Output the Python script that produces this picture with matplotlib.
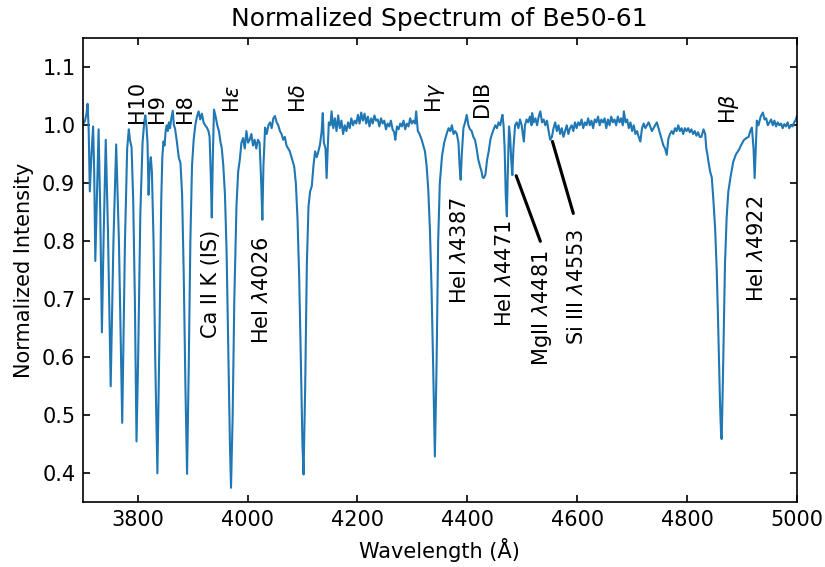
import matplotlib
matplotlib.use("Agg")
import matplotlib.pyplot as plt

wavelength = [
    3702, 3704, 3707, 3709, 3711, 3713, 3716, 3719, 3721, 3723, 3726, 3729, 3732, 3735, 3738,
    3742, 3746, 3751, 3756, 3761, 3766, 3772, 3777, 3781, 3784, 3786, 3789, 3792, 3795, 3798,
    3801, 3805, 3809, 3812, 3814, 3816, 3818, 3820, 3822, 3824, 3826, 3829, 3832, 3836, 3840,
    3843, 3845, 3847, 3849, 3851, 3853, 3855, 3857, 3859, 3861, 3864, 3866, 3868, 3871, 3875,
    3878, 3881, 3884, 3887, 3890, 3893, 3896, 3899, 3902, 3905, 3908, 3911, 3914, 3917, 3920,
    3923, 3926, 3929, 3931, 3933, 3935, 3937, 3939, 3942, 3945, 3948, 3951, 3953, 3956, 3959,
    3962, 3965, 3968, 3970, 3973, 3976, 3980, 3983, 3986, 3989, 3992, 3995, 3998, 4001, 4004,
    4007, 4010, 4013, 4016, 4019, 4022, 4025, 4027, 4029, 4032, 4035, 4038, 4041, 4044, 4047,
    4050, 4053, 4056, 4059, 4062, 4065, 4068, 4071, 4074, 4077, 4080, 4083, 4085, 4088, 4091,
    4094, 4097, 4100, 4102, 4105, 4108, 4111, 4114, 4117, 4120, 4123, 4126, 4129, 4132, 4135,
    4137, 4139, 4142, 4144, 4146, 4148, 4151, 4153, 4156, 4159, 4162, 4165, 4168, 4171, 4174,
    4177, 4180, 4183, 4186, 4189, 4192, 4195, 4198, 4201, 4204, 4207, 4210, 4213, 4216, 4219,
    4222, 4225, 4228, 4231, 4234, 4237, 4240, 4243, 4246, 4249, 4252, 4255, 4258, 4261, 4264,
    4267, 4269, 4272, 4275, 4278, 4281, 4284, 4287, 4290, 4293, 4296, 4299, 4302, 4305, 4307,
    4310, 4313, 4317, 4320, 4323, 4326, 4329, 4332, 4335, 4338, 4341, 4344, 4347, 4350, 4354,
    4358, 4363, 4366, 4369, 4372, 4375, 4378, 4381, 4384, 4386, 4388, 4390, 4393, 4396, 4399,
    4402, 4405, 4408, 4411, 4414, 4417, 4420, 4423, 4426, 4428, 4430, 4433, 4436, 4439, 4442,
    4445, 4448, 4451, 4454, 4457, 4460, 4462, 4464, 4466, 4468, 4470, 4472, 4474, 4476, 4478,
    4480, 4482, 4484, 4487, 4490, 4493, 4496, 4499, 4501, 4503, 4505, 4508, 4511, 4514, 4517,
    4518, 4521, 4524, 4527, 4530, 4533, 4536, 4539, 4542, 4545, 4548, 4551, 4554, 4557, 4560,
    4563, 4566, 4569, 4572, 4575, 4578, 4581, 4584, 4587, 4590, 4593, 4596, 4599, 4602, 4605,
    4608, 4611, 4614, 4617, 4620, 4623, 4626, 4629, 4632, 4635, 4638, 4641, 4644, 4647, 4650,
    4653, 4656, 4659, 4662, 4665, 4668, 4671, 4674, 4677, 4680, 4683, 4685, 4688, 4691, 4694,
    4697, 4700, 4703, 4706, 4709, 4712, 4715, 4718, 4721, 4724, 4727, 4730, 4733, 4736, 4739,
    4742, 4745, 4748, 4751, 4754, 4757, 4760, 4763, 4766, 4769, 4772, 4775, 4778, 4781, 4784,
    4787, 4790, 4793, 4796, 4799, 4802, 4805, 4808, 4811, 4814, 4817, 4820, 4823, 4826, 4830,
    4833, 4835, 4837, 4839, 4842, 4845, 4848, 4851, 4854, 4856, 4858, 4860, 4862, 4863, 4865,
    4867, 4869, 4872, 4875, 4879, 4884, 4889, 4894, 4898, 4903, 4908, 4912, 4915, 4918, 4921,
    4923, 4925, 4927, 4930, 4934, 4938, 4941, 4944, 4947, 4950, 4953, 4956, 4959, 4962, 4965,
    4968, 4971, 4974, 4977, 4980, 4983, 4986, 4989, 4992, 4995, 4998, 5000,
]

intensity = [
    1.004, 1.007, 1.020, 1.037, 0.990, 0.886, 0.950, 0.998, 0.920, 0.766, 0.880, 0.993, 0.850, 0.643, 0.800,
    0.975, 0.820, 0.550, 0.800, 0.967, 0.800, 0.487, 0.800, 0.960, 0.993, 0.975, 0.962, 0.870, 0.700, 0.455,
    0.600, 0.850, 0.970, 1.005, 1.017, 1.000, 0.970, 0.880, 0.930, 0.945, 0.920, 0.800, 0.600, 0.400, 0.650,
    0.870, 0.945, 0.972, 0.965, 0.990, 1.000, 0.990, 1.005, 0.995, 1.010, 1.025, 1.000, 0.995, 0.975, 0.944,
    0.935, 0.880, 0.740, 0.550, 0.399, 0.580, 0.800, 0.930, 0.975, 1.000, 1.015, 1.024, 1.010, 1.020, 1.005,
    1.000, 0.996, 0.990, 0.980, 0.920, 0.841, 0.950, 1.027, 1.015, 1.000, 0.990, 0.970, 0.962, 0.930, 0.880,
    0.780, 0.620, 0.450, 0.375, 0.500, 0.700, 0.863, 0.920, 0.941, 0.970, 0.978, 0.960, 0.990, 0.970, 0.975,
    0.985, 0.965, 0.975, 0.960, 0.975, 0.970, 0.900, 0.837, 0.930, 0.996, 0.985, 1.000, 1.005, 0.995, 1.012,
    1.016, 1.005, 1.000, 0.990, 0.985, 0.975, 0.980, 0.965, 0.960, 0.955, 0.945, 0.935, 0.929, 0.900, 0.840,
    0.740, 0.600, 0.450, 0.398, 0.550, 0.760, 0.860, 0.886, 0.895, 0.930, 0.955, 0.945, 0.955, 0.967, 0.990,
    1.021, 0.970, 0.960, 0.909, 0.960, 1.005, 1.000, 1.024, 0.995, 1.012, 0.990, 1.017, 0.995, 1.008, 0.985,
    1.000, 0.990, 1.005, 0.995, 1.012, 1.000, 1.008, 1.003, 1.018, 1.003, 1.022, 1.008, 1.020, 1.003, 1.015,
    0.998, 1.012, 1.003, 1.017, 1.008, 1.010, 0.998, 1.012, 1.003, 1.008, 0.993, 1.003, 0.998, 1.008, 0.993,
    0.988, 0.975, 0.998, 0.993, 1.003, 0.998, 1.008, 0.993, 1.003, 0.998, 1.012, 1.003, 1.008, 1.003, 1.024,
    0.990, 0.985, 0.975, 0.965, 0.955, 0.930, 0.889, 0.820, 0.717, 0.580, 0.429, 0.580, 0.800, 0.900, 0.947,
    0.970, 0.987, 0.995, 0.990, 1.000, 0.985, 0.990, 0.985, 0.970, 0.930, 0.906, 0.950, 0.995, 1.005, 1.018,
    1.000, 0.993, 0.990, 0.980, 0.975, 0.960, 0.941, 0.930, 0.920, 0.910, 0.909, 0.915, 0.940, 0.955, 0.975,
    0.985, 0.993, 1.000, 0.995, 1.005, 1.000, 1.010, 1.018, 1.000, 0.960, 0.880, 0.843, 0.930, 0.998, 0.980,
    0.940, 0.914, 0.960, 1.000, 1.005, 0.995, 1.010, 1.000, 0.985, 0.972, 1.000, 1.010, 1.005, 1.015, 1.000,
    1.021, 1.005, 1.012, 1.000, 1.015, 1.024, 1.005, 1.010, 1.000, 1.008, 0.990, 0.975, 0.980, 0.995, 1.005,
    0.990, 1.000, 0.985, 0.995, 0.980, 0.990, 1.000, 0.985, 0.995, 1.000, 0.990, 1.005, 0.995, 1.005, 1.000,
    1.010, 0.995, 1.005, 1.000, 1.012, 1.000, 1.008, 0.995, 1.010, 1.005, 1.015, 1.000, 1.010, 1.005, 1.012,
    0.995, 1.010, 1.000, 1.015, 1.005, 1.010, 1.000, 1.015, 1.005, 1.012, 1.000, 1.024, 1.005, 1.010, 0.995,
    1.005, 0.990, 1.000, 0.985, 0.990, 0.980, 0.972, 0.995, 1.003, 0.995, 1.000, 1.005, 0.998, 0.990, 0.995,
    1.000, 1.005, 0.995, 0.985, 0.975, 0.965, 0.960, 0.949, 0.977, 0.985, 0.990, 0.985, 0.995, 0.990, 1.000,
    0.990, 0.995, 0.985, 0.995, 0.990, 0.995, 0.988, 0.993, 0.985, 0.990, 0.982, 0.988, 0.980, 0.980, 0.993,
    0.985, 0.960, 0.950, 0.937, 0.920, 0.910, 0.870, 0.824, 0.750, 0.680, 0.600, 0.520, 0.465, 0.459, 0.550,
    0.660, 0.760, 0.840, 0.885, 0.910, 0.937, 0.950, 0.957, 0.965, 0.974, 0.978, 0.980, 0.990, 0.996, 0.960,
    0.909, 0.960, 1.008, 1.000, 1.015, 1.022, 1.010, 1.012, 1.000, 1.005, 1.010, 1.000, 1.008, 0.998, 1.005,
    1.000, 1.003, 0.995, 1.002, 0.998, 1.005, 0.995, 1.000, 0.998, 1.005, 1.010, 1.016,
]

top_labels = ["H10", "H9", "H8", r"H$\epsilon$", r"H$\delta$", r"H$\gamma$", "DIB", r"H$\beta$"]
top_label_x = [3798, 3836, 3886, 3973, 4094, 4341, 4427, 4876]
top_label_y = [1.004, 1.004, 1.004, 1.022, 1.022, 1.022, 1.015, 1.003]

low_labels = ["Ca II K (IS)", r"HeI $\lambda$4026", r"HeI $\lambda$4387", r"HeI $\lambda$4471",
              r"MgII $\lambda$4481", r"Si III $\lambda$4553", r"HeI $\lambda$4922"]
low_label_x = [3933, 4026, 4386, 4468, 4536, 4600, 4927]
low_label_y = [0.820, 0.808, 0.877, 0.836, 0.784, 0.823, 0.878]

# connector lines: (line start at feature, line end near label)
connector_from = [(4489, 0.913), (4555, 0.972)]
connector_to = [(4533, 0.800), (4593, 0.848)]

fig = plt.figure(figsize=(5.5, 3.78), dpi=150)
ax = fig.add_axes([0.1002, 0.1141, 0.966 - 0.1002, 0.9325 - 0.1141])

ax.plot(wavelength, intensity, color="#1f77b4", lw=1.0)

for lab, x, y in zip(top_labels, top_label_x, top_label_y):
    ax.text(x, y, lab, rotation=90, ha="center", va="bottom")
for lab, x, y in zip(low_labels, low_label_x, low_label_y):
    ax.text(x, y, lab, rotation=90, ha="center", va="top")
for p0, p1 in zip(connector_from, connector_to):
    ax.annotate("", xy=p0, xytext=p1,
                arrowprops=dict(arrowstyle="-", color="k", lw=1.5, shrinkA=0, shrinkB=0))

ax.set_xlim(3700, 5000)
ax.set_ylim(0.35, 1.15)
ax.set_xticks([3800, 4000, 4200, 4400, 4600, 4800, 5000])
ax.set_yticks([0.4, 0.5, 0.6, 0.7, 0.8, 0.9, 1.0, 1.1])
ax.tick_params(direction="in", top=True, right=True)
ax.set_xlabel("Wavelength (Å)")
ax.set_ylabel("Normalized Intensity")
ax.set_title("Normalized Spectrum of Be50-61")

fig.savefig("out.png", dpi=150)
